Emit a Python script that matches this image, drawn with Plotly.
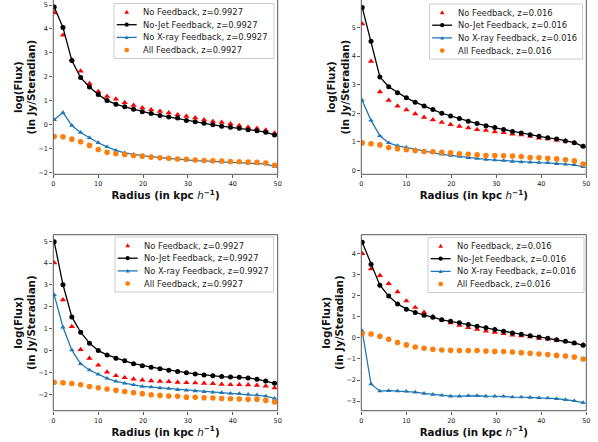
import plotly.graph_objects as go

# ---------------- data ----------------
radius = [0.2, 2.16, 4.13, 6.09, 8.06, 10.02, 11.98, 13.95, 15.91, 17.88, 19.84,
          21.8, 23.77, 25.73, 27.7, 29.66, 31.62, 33.59, 35.55, 37.52, 39.48,
          41.44, 43.41, 45.37, 47.34, 49.3]

x_ticks = [0, 10, 20, 30, 40, 50]

# Panel 1 (top-left), z=0.9927
p1_nofb = [4.67, 3.74, 2.71, 2.24, 1.72, 1.39, 1.19, 1.07, 0.93, 0.81, 0.71, 0.63, 0.56,
           0.50, 0.42, 0.35, 0.29, 0.21, 0.14, 0.10, 0.04, -0.03, -0.10, -0.15, -0.22, -0.35]
p1_nojet = [4.92, 4.06, 2.68, 1.97, 1.58, 1.26, 1.01, 0.86, 0.75, 0.65, 0.54, 0.47, 0.39,
            0.32, 0.28, 0.18, 0.13, 0.06, 0.0, -0.06, -0.10, -0.14, -0.21, -0.25, -0.31, -0.43]
p1_noxray = [0.21, 0.51, -0.03, -0.32, -0.54, -0.75, -0.92, -1.07, -1.17, -1.24, -1.29, -1.33, -1.38,
             -1.40, -1.43, -1.47, -1.50, -1.51, -1.54, -1.56, -1.57, -1.58, -1.60, -1.62, -1.64, -1.74]
p1_all = [-0.49, -0.50, -0.60, -0.71, -0.86, -1.03, -1.15, -1.21, -1.24, -1.28, -1.31, -1.35, -1.38,
          -1.40, -1.43, -1.44, -1.47, -1.49, -1.50, -1.51, -1.53, -1.54, -1.56, -1.57, -1.60, -1.69]

# Panel 2 (top-right), z=0.016
p2_nofb = [5.13, 3.82, 2.75, 2.45, 2.25, 2.12, 1.98, 1.86, 1.77, 1.68, 1.60, 1.54, 1.49,
           1.43, 1.40, 1.35, 1.32, 1.27, 1.24, 1.19, 1.13, 1.10, 1.06, 1.03, 0.96, 0.84]
p2_nojet = [5.71, 4.52, 3.27, 2.93, 2.72, 2.54, 2.39, 2.25, 2.13, 2.00, 1.90, 1.82, 1.72,
            1.64, 1.56, 1.50, 1.43, 1.36, 1.31, 1.25, 1.19, 1.14, 1.10, 1.03, 0.97, 0.84]
p2_noxray = [2.45, 1.75, 1.21, 0.96, 0.86, 0.80, 0.72, 0.66, 0.61, 0.56, 0.52, 0.48, 0.44,
             0.41, 0.38, 0.36, 0.34, 0.31, 0.29, 0.28, 0.27, 0.26, 0.23, 0.21, 0.19, 0.12]
p2_all = [0.96, 0.93, 0.89, 0.80, 0.76, 0.72, 0.69, 0.66, 0.65, 0.63, 0.61, 0.58, 0.56,
          0.54, 0.52, 0.52, 0.51, 0.50, 0.48, 0.45, 0.44, 0.42, 0.40, 0.37, 0.33, 0.22]

# Panel 3 (bottom-left), z=0.9927
p3_nofb = [4.01, 2.32, 1.10, 0.05, -0.35, -0.67, -0.98, -1.15, -1.24, -1.30, -1.35, -1.38, -1.41,
           -1.42, -1.45, -1.47, -1.48, -1.50, -1.51, -1.54, -1.56, -1.56, -1.57, -1.59, -1.62, -1.71]
p3_nojet = [4.98, 3.01, 1.54, 0.84, 0.34, 0.0, -0.20, -0.35, -0.47, -0.60, -0.69, -0.76, -0.83,
            -0.90, -0.96, -1.01, -1.07, -1.12, -1.15, -1.19, -1.21, -1.22, -1.25, -1.31, -1.39, -1.50]
p3_noxray = [2.55, 1.07, 0.02, -0.61, -0.89, -1.09, -1.27, -1.41, -1.50, -1.57, -1.64, -1.67, -1.71,
             -1.74, -1.79, -1.82, -1.85, -1.88, -1.91, -1.93, -1.96, -1.97, -2.00, -2.03, -2.08, -2.19]
p3_all = [-1.45, -1.47, -1.51, -1.56, -1.64, -1.70, -1.76, -1.82, -1.87, -1.93, -1.97, -2.02, -2.05,
          -2.08, -2.09, -2.13, -2.14, -2.16, -2.17, -2.19, -2.20, -2.22, -2.23, -2.23, -2.28, -2.35]

# Panel 4 (bottom-right), z=0.016
p4_nofb = [4.01, 3.28, 2.97, 2.59, 2.19, 1.76, 1.45, 1.22, 1.02, 0.86, 0.72, 0.60, 0.49,
           0.41, 0.33, 0.27, 0.21, 0.14, 0.10, 0.05, -0.02, -0.06, -0.11, -0.16, -0.24, -0.32]
p4_nojet = [4.55, 3.51, 2.51, 1.99, 1.62, 1.37, 1.21, 1.08, 0.99, 0.86, 0.79, 0.72, 0.64,
            0.56, 0.48, 0.40, 0.32, 0.24, 0.17, 0.10, 0.05, -0.02, -0.08, -0.16, -0.24, -0.35]
p4_noxray = [0.33, -2.19, -2.53, -2.51, -2.53, -2.54, -2.58, -2.64, -2.69, -2.73, -2.77, -2.77, -2.75,
             -2.75, -2.77, -2.77, -2.78, -2.81, -2.81, -2.83, -2.85, -2.86, -2.89, -2.94, -2.99, -3.08]
p4_all = [0.21, 0.19, 0.08, -0.06, -0.22, -0.33, -0.43, -0.49, -0.54, -0.57, -0.59, -0.60, -0.60,
          -0.60, -0.62, -0.64, -0.65, -0.67, -0.70, -0.73, -0.76, -0.79, -0.83, -0.86, -0.91, -1.00]

redshifts = ["0.9927", "0.016", "0.9927", "0.016"]
series_names = ["No Feedback", "No-Jet Feedback", "No X-ray Feedback", "All Feedback"]
panel_series = [
    (p1_nofb, p1_nojet, p1_noxray, p1_all),
    (p2_nofb, p2_nojet, p2_noxray, p2_all),
    (p3_nofb, p3_nojet, p3_noxray, p3_all),
    (p4_nofb, p4_nojet, p4_noxray, p4_all),
]

# ---------------- layout geometry (pixels) ----------------
W, H = 598, 442
x_domains = [[53.3 / W, 277.7 / W], [361.3 / W, 586.3 / W]]
y_domains = [[1 - 174.3 / H, 1.0], [1 - 410.7 / H, 1 - 234.7 / H]]
y_ranges = [[-2.067, 5.209], [-0.14, 5.97], [-2.75, 5.30], [-3.46, 4.91]]
# legend box: left, right, top (pixels from the top-left corner)
legend_boxes = [(114, 274, 3.5), (429.5, 582.5, 4), (115, 273.5, 237), (428, 584, 237.5)]
LEG_ROW0, LEG_PITCH, LEG_H = 8.5, 12.7, 55

RED = "#ff0000"
BLACK = "#000000"
BLUE = "#1f77b4"
ORANGE = "#ff7f0e"
FONT = "DejaVu Sans"

styles = [
    dict(mode="markers", color=RED, symbol="triangle-up", size=5.6, line=False),
    dict(mode="lines+markers", color=BLACK, symbol="circle", size=5, line=True),
    dict(mode="lines+markers", color=BLUE, symbol="triangle-up", size=4.8, line=True),
    dict(mode="markers", color=ORANGE, symbol="circle", size=5.6, line=False),
]


def px(x):
    return x / W


def py(y):
    return 1 - y / H


fig = go.Figure()
shapes, annotations = [], []
layout = dict(
    width=W, height=H,
    margin=dict(l=0, r=0, t=0, b=0, autoexpand=False),
    paper_bgcolor="white", plot_bgcolor="white",
    font=dict(family=FONT, color="#222"),
    showlegend=False,
)

for k in range(4):
    row, col = divmod(k, 2)
    ax = "" if k == 0 else str(k + 1)
    xa, ya = "x" + ax, "y" + ax
    z = redshifts[k]

    for s, (name, vals) in enumerate(zip(series_names, panel_series[k])):
        st = styles[s]
        fig.add_trace(go.Scatter(
            x=radius, y=vals, mode=st["mode"], name=f"{name}, z={z}",
            line=dict(color=st["color"], width=1.3),
            marker=dict(symbol=st["symbol"], size=st["size"], color=st["color"]),
            xaxis=xa, yaxis=ya))

    common = dict(showgrid=False, zeroline=False, showline=False, automargin=False,
                  ticks="outside", ticklen=3, tickwidth=0.8, tickcolor="#333",
                  tickfont=dict(size=6.5, family=FONT, color="#222"))
    layout["xaxis" + ax] = dict(
        domain=x_domains[col], anchor=ya, range=[0, 50],
        tickmode="array", tickvals=x_ticks,
        title=dict(text="<b>Radius (in kpc </b><i>h</i><b><sup>−1</sup>)</b>",
                   font=dict(size=10.3, family=FONT, color="#111"), standoff=4),
        **common)
    layout["yaxis" + ax] = dict(
        domain=y_domains[row], anchor=xa, range=y_ranges[k],
        dtick=1,
        title=dict(text="<b>log(Flux)</b><br><b>(in Jy/Steradian)</b>",
                   font=dict(size=10.3, family=FONT, color="#111"), standoff=0),
        **common)

    # axes frame
    top = 1.02 if row == 0 else 1
    shapes.append(dict(
        type="rect", xref=xa + " domain", yref=ya + " domain",
        x0=0, x1=1, y0=0, y1=top, line=dict(color="#444", width=0.9),
        fillcolor="rgba(0,0,0,0)", layer="above"))

    # legend (box, symbols, labels)
    left, right, ltop = legend_boxes[k]
    shapes.append(dict(
        type="rect", xref="paper", yref="paper",
        x0=px(left), x1=px(right), y0=py(ltop + LEG_H), y1=py(ltop),
        line=dict(color="#cccccc", width=1), fillcolor="rgba(255,255,255,0.85)",
        layer="above"))
    for s, name in enumerate(series_names):
        st = styles[s]
        cy = ltop + LEG_ROW0 + s * LEG_PITCH
        cx = left + 12.7
        if st["line"]:
            shapes.append(dict(
                type="line", xref="paper", yref="paper",
                x0=px(left + 2.7), x1=px(left + 22.7), y0=py(cy), y1=py(cy),
                line=dict(color=st["color"], width=1.3), layer="above"))
        if st["symbol"] == "circle":
            r = st["size"] / 2 - 0.4
            shapes.append(dict(
                type="circle", xref="paper", yref="paper",
                xsizemode="pixel", ysizemode="pixel",
                xanchor=px(cx), yanchor=py(cy),
                x0=-r, x1=r, y0=-r, y1=r,
                fillcolor=st["color"], line=dict(width=0), layer="above"))
        else:
            h = st["size"] * 0.7
            shapes.append(dict(
                type="path", xref="paper", yref="paper",
                xsizemode="pixel", ysizemode="pixel",
                xanchor=px(cx), yanchor=py(cy),
                path=f"M{-h * 0.6:.2f},{-h * 0.45:.2f} L{h * 0.6:.2f},{-h * 0.45:.2f} L0,{h * 0.6:.2f} Z",
                fillcolor=st["color"], line=dict(width=0), layer="above"))
        annotations.append(dict(
            text=f"{name}, z={z}", xref="paper", yref="paper",
            x=px(left + 26.5), y=py(cy), xanchor="left", yanchor="middle",
            showarrow=False, font=dict(size=8.4, family=FONT, color="#222")))

layout["shapes"] = shapes
layout["annotations"] = annotations
fig.update_layout(**layout)
fig.write_html(
    "out.html",
    config={"displayModeBar": False, "staticPlot": True},
    post_script="document.body.style.margin='0';document.body.style.overflow='hidden';",
)
